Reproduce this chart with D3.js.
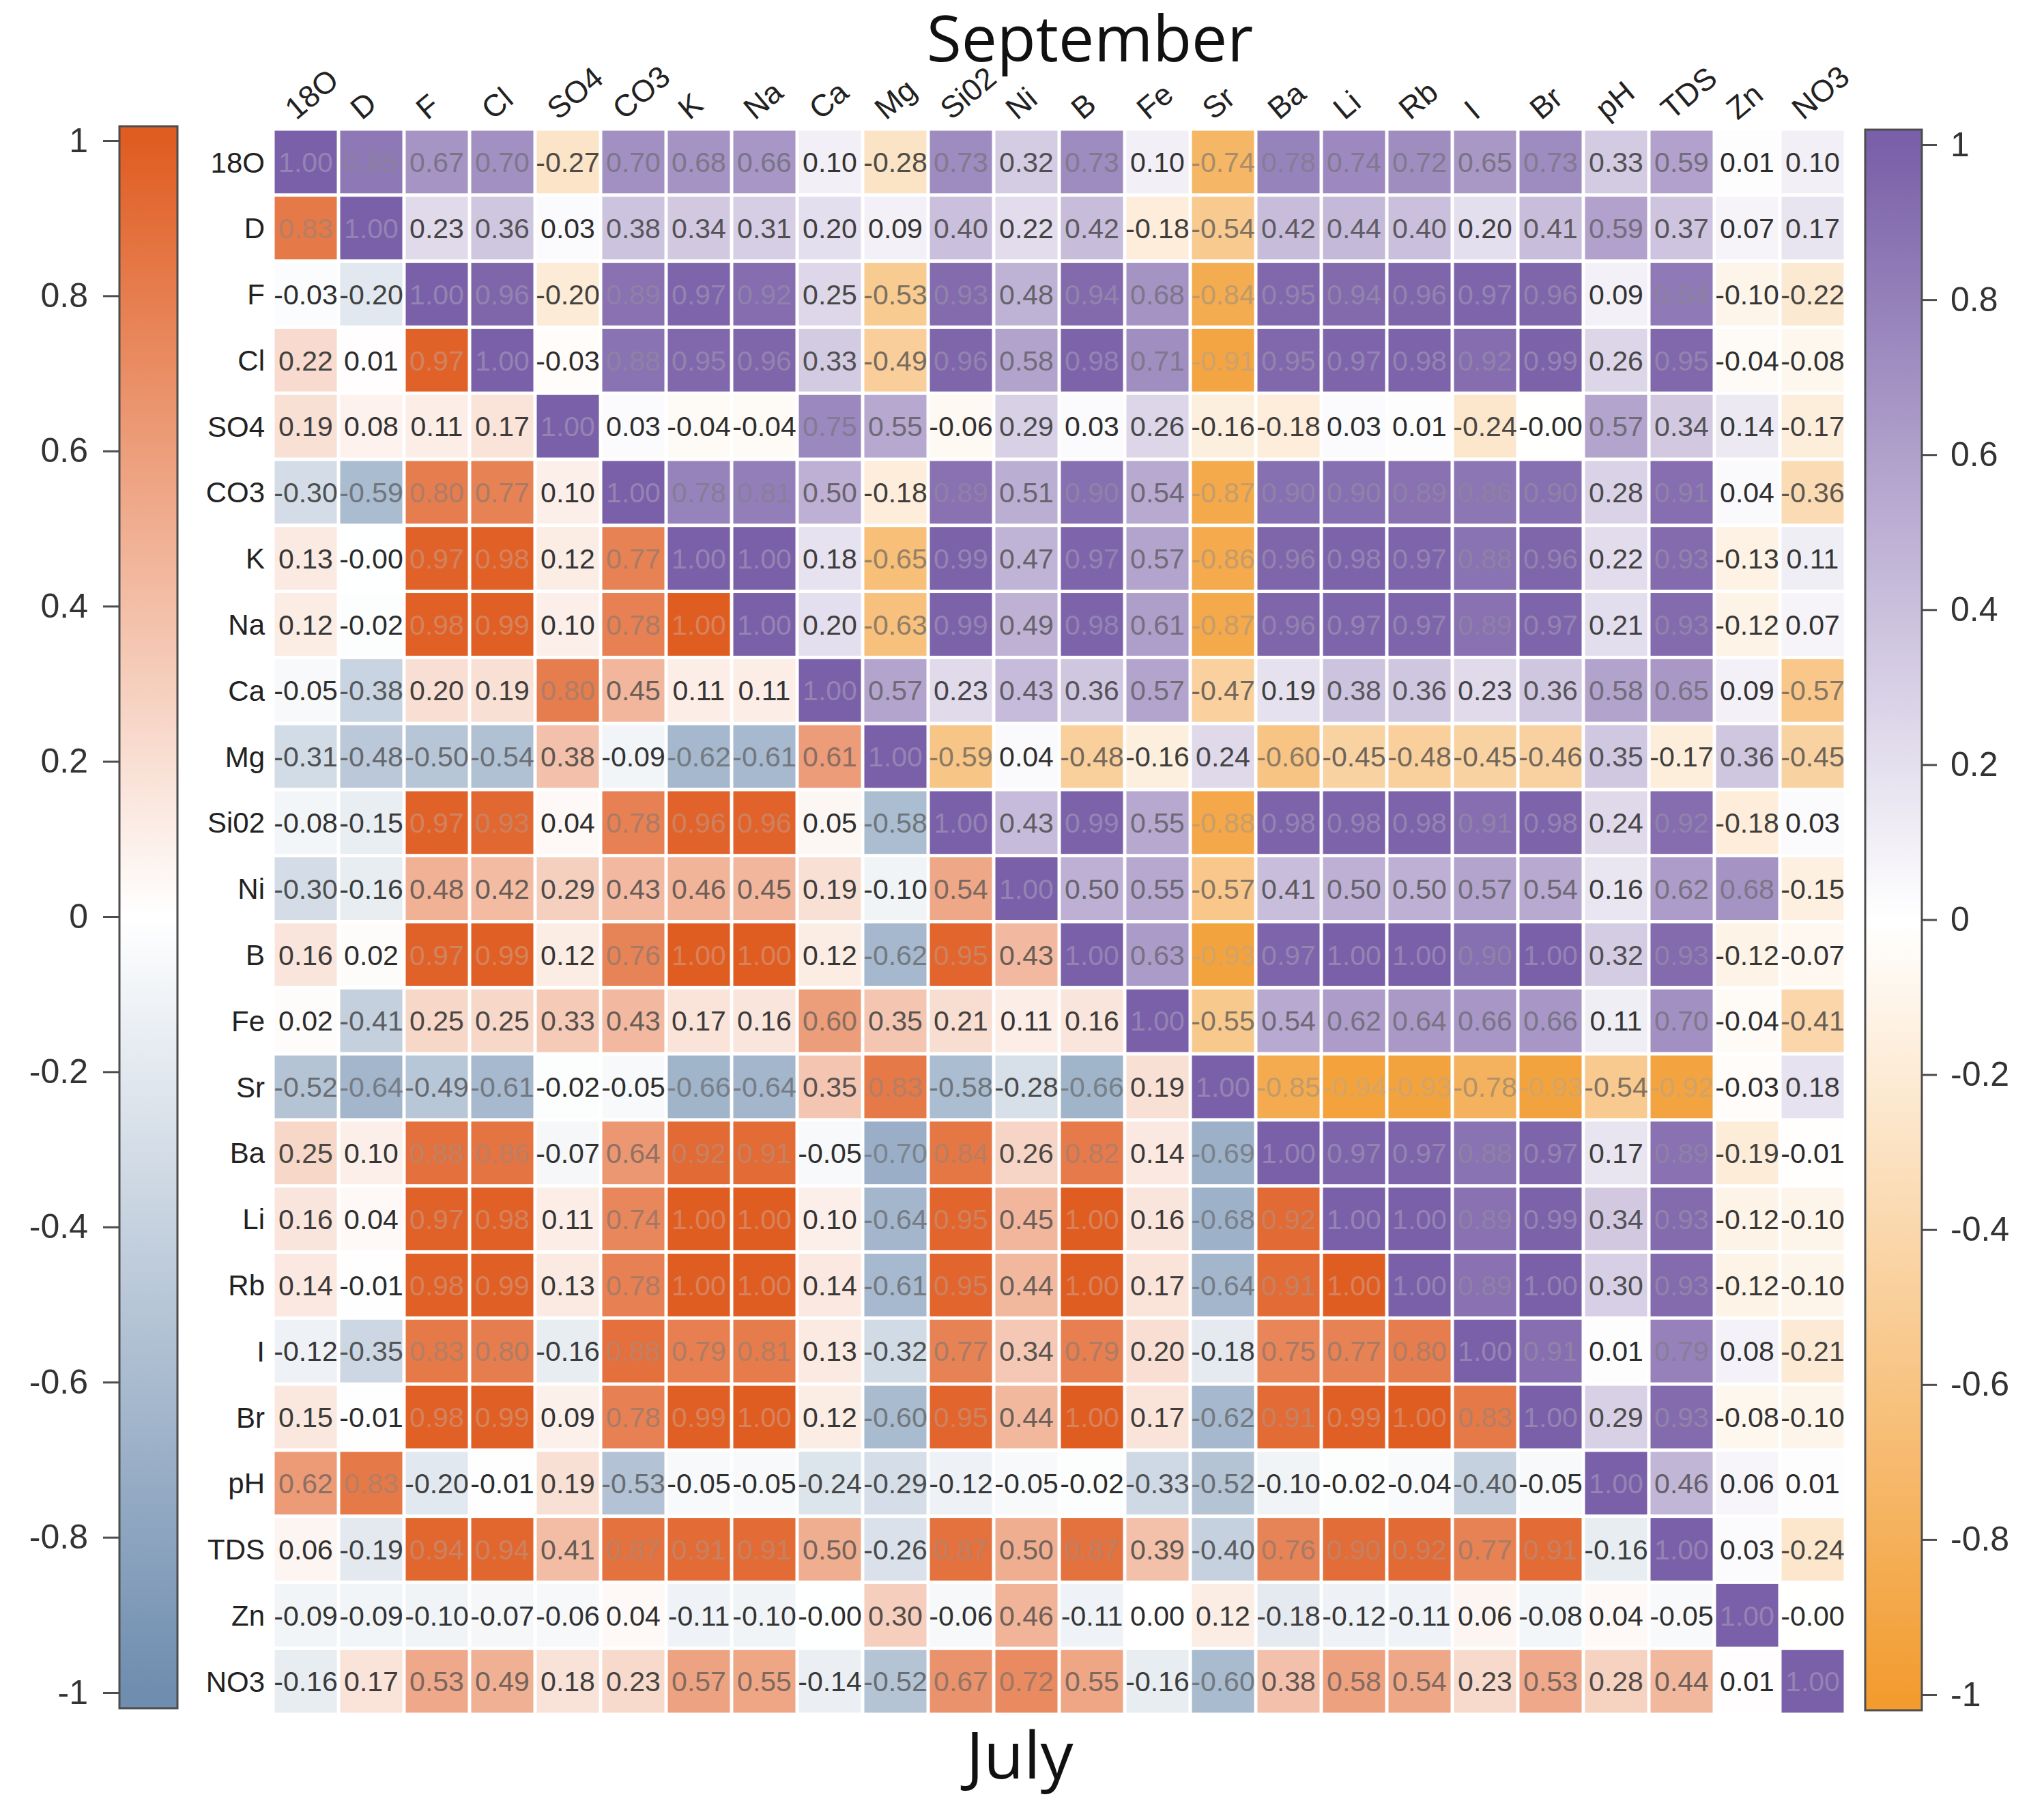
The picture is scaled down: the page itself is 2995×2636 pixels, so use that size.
<!DOCTYPE html>
<html>
<head>
<meta charset="utf-8">
<script src="https://cdn.jsdelivr.net/npm/d3@7"></script>
<style>
  html, body { margin: 0; padding: 0; background: #ffffff; }
  svg { display: block; }
</style>
</head>
<body>
<svg id="chart" width="2995" height="2636"></svg>
<script>
// variables, same order on both axes
const vars = ["18O","D","F","Cl","SO4","CO3","K","Na","Ca","Mg","Si02","Ni",
              "B","Fe","Sr","Ba","Li","Rb","I","Br","pH","TDS","Zn","NO3"];

// September (upper triangle): row i holds columns i+1 .. 23
const septRows = [
  [0.85,0.67,0.70,-0.27,0.70,0.68,0.66,0.10,-0.28,0.73,0.32,0.73,0.10,-0.74,0.78,0.74,0.72,0.65,0.73,0.33,0.59,0.01,0.10],
  [0.23,0.36,0.03,0.38,0.34,0.31,0.20,0.09,0.40,0.22,0.42,-0.18,-0.54,0.42,0.44,0.40,0.20,0.41,0.59,0.37,0.07,0.17],
  [0.96,-0.20,0.89,0.97,0.92,0.25,-0.53,0.93,0.48,0.94,0.68,-0.84,0.95,0.94,0.96,0.97,0.96,0.09,0.84,-0.10,-0.22],
  [-0.03,0.88,0.95,0.96,0.33,-0.49,0.96,0.58,0.98,0.71,-0.91,0.95,0.97,0.98,0.92,0.99,0.26,0.95,-0.04,-0.08],
  [0.03,-0.04,-0.04,0.75,0.55,-0.06,0.29,0.03,0.26,-0.16,-0.18,0.03,0.01,-0.24,-0.004,0.57,0.34,0.14,-0.17],
  [0.78,0.81,0.50,-0.18,0.89,0.51,0.90,0.54,-0.87,0.90,0.90,0.89,0.86,0.90,0.28,0.91,0.04,-0.36],
  [1.00,0.18,-0.65,0.99,0.47,0.97,0.57,-0.86,0.96,0.98,0.97,0.88,0.96,0.22,0.93,-0.13,0.11],
  [0.20,-0.63,0.99,0.49,0.98,0.61,-0.87,0.96,0.97,0.97,0.89,0.97,0.21,0.93,-0.12,0.07],
  [0.57,0.23,0.43,0.36,0.57,-0.47,0.19,0.38,0.36,0.23,0.36,0.58,0.65,0.09,-0.57],
  [-0.59,0.04,-0.48,-0.16,0.24,-0.60,-0.45,-0.48,-0.45,-0.46,0.35,-0.17,0.36,-0.45],
  [0.43,0.99,0.55,-0.88,0.98,0.98,0.98,0.91,0.98,0.24,0.92,-0.18,0.03],
  [0.50,0.55,-0.57,0.41,0.50,0.50,0.57,0.54,0.16,0.62,0.68,-0.15],
  [0.63,-0.93,0.97,1.00,1.00,0.90,1.00,0.32,0.93,-0.12,-0.07],
  [-0.55,0.54,0.62,0.64,0.66,0.66,0.11,0.70,-0.04,-0.41],
  [-0.85,-0.94,-0.93,-0.78,-0.93,-0.54,-0.92,-0.03,0.18],
  [0.97,0.97,0.88,0.97,0.17,0.89,-0.19,-0.01],
  [1.00,0.89,0.99,0.34,0.93,-0.12,-0.10],
  [0.89,1.00,0.30,0.93,-0.12,-0.10],
  [0.91,0.01,0.79,0.08,-0.21],
  [0.29,0.93,-0.08,-0.10],
  [0.46,0.06,0.01],
  [0.03,-0.24],
  [-0.004],
  []
];

// July (lower triangle): row i holds columns 0 .. i-1
const julyRows = [
  [],
  [0.83],
  [-0.03,-0.20],
  [0.22,0.01,0.97],
  [0.19,0.08,0.11,0.17],
  [-0.30,-0.59,0.80,0.77,0.10],
  [0.13,-0.004,0.97,0.98,0.12,0.77],
  [0.12,-0.02,0.98,0.99,0.10,0.78,1.00],
  [-0.05,-0.38,0.20,0.19,0.80,0.45,0.11,0.11],
  [-0.31,-0.48,-0.50,-0.54,0.38,-0.09,-0.62,-0.61,0.61],
  [-0.08,-0.15,0.97,0.93,0.04,0.78,0.96,0.96,0.05,-0.58],
  [-0.30,-0.16,0.48,0.42,0.29,0.43,0.46,0.45,0.19,-0.10,0.54],
  [0.16,0.02,0.97,0.99,0.12,0.76,1.00,1.00,0.12,-0.62,0.95,0.43],
  [0.02,-0.41,0.25,0.25,0.33,0.43,0.17,0.16,0.60,0.35,0.21,0.11,0.16],
  [-0.52,-0.64,-0.49,-0.61,-0.02,-0.05,-0.66,-0.64,0.35,0.83,-0.58,-0.28,-0.66,0.19],
  [0.25,0.10,0.88,0.86,-0.07,0.64,0.92,0.91,-0.05,-0.70,0.84,0.26,0.82,0.14,-0.69],
  [0.16,0.04,0.97,0.98,0.11,0.74,1.00,1.00,0.10,-0.64,0.95,0.45,1.00,0.16,-0.68,0.92],
  [0.14,-0.01,0.98,0.99,0.13,0.78,1.00,1.00,0.14,-0.61,0.95,0.44,1.00,0.17,-0.64,0.91,1.00],
  [-0.12,-0.35,0.83,0.80,-0.16,0.88,0.79,0.81,0.13,-0.32,0.77,0.34,0.79,0.20,-0.18,0.75,0.77,0.80],
  [0.15,-0.01,0.98,0.99,0.09,0.78,0.99,1.00,0.12,-0.60,0.95,0.44,1.00,0.17,-0.62,0.91,0.99,1.00,0.83],
  [0.62,0.83,-0.20,-0.01,0.19,-0.53,-0.05,-0.05,-0.24,-0.29,-0.12,-0.05,-0.02,-0.33,-0.52,-0.10,-0.02,-0.04,-0.40,-0.05],
  [0.06,-0.19,0.94,0.94,0.41,0.87,0.91,0.91,0.50,-0.26,0.87,0.50,0.87,0.39,-0.40,0.76,0.90,0.92,0.77,0.91,-0.16],
  [-0.09,-0.09,-0.10,-0.07,-0.06,0.04,-0.11,-0.10,-0.004,0.30,-0.06,0.46,-0.11,0.00,0.12,-0.18,-0.12,-0.11,0.06,-0.08,0.04,-0.05],
  [-0.16,0.17,0.53,0.49,0.18,0.23,0.57,0.55,-0.14,-0.52,0.67,0.72,0.55,-0.16,-0.60,0.38,0.58,0.54,0.23,0.53,0.28,0.44,0.01]
];

const barTicks = [1, 0.8, 0.6, 0.4, 0.2, 0, -0.2, -0.4, -0.6, -0.8, -1];

const font = "'Liberation Sans', Arial, sans-serif";
const titleFont = "'Open Sans', 'Noto Sans', sans-serif";
const svg = d3.select("#chart");

// colour maps
const septColor = d3.scaleLinear().domain([-1, 0, 1])
  .range(["#f29c30", "#ffffff", "#7a60a8"]).clamp(true);
const julyColor = d3.scaleLinear().domain([-1, 0, 1])
  .range(["#6f8daf", "#ffffff", "#e05d22"]).clamp(true);

// build the cell list
const cells = [];
vars.forEach((rv, i) => {
  vars.forEach((cv, j) => {
    let v, which;
    if (i === j) { v = 1; which = "sept"; }
    else if (j > i) { v = septRows[i][j - i - 1]; which = "sept"; }
    else { v = julyRows[i][j]; which = "july"; }
    cells.push({ row: rv, col: cv, v, which });
  });
});

const x = d3.scaleBand().domain(vars).range([400, 2704]);
const y = d3.scaleBand().domain(vars).range([189, 2512]);
const gap = 2.5;

const fillOf = d => d.which === "sept" ? septColor(d.v) : julyColor(d.v);
// label colour: dark on pale cells, fading toward a light tint of the cell on strong ones
const textOf = d => {
  const tint = d3.interpolateRgb(fillOf(d), "#c8c8c8")(0.35);
  return d3.interpolateRgb("#2b2b2b", tint)(Math.pow(Math.abs(d.v), 1.3));
};

const g = svg.append("g");
g.selectAll("rect.cell")
  .data(cells)
  .join("rect")
  .attr("class", "cell")
  .attr("x", d => x(d.col) + gap)
  .attr("y", d => y(d.row) + gap)
  .attr("width", x.bandwidth() - 2 * gap)
  .attr("height", y.bandwidth() - 2 * gap)
  .attr("fill", fillOf);

g.selectAll("text.val")
  .data(cells)
  .join("text")
  .attr("class", "val")
  .attr("x", d => x(d.col) + x.bandwidth() / 2)
  .attr("y", d => y(d.row) + y.bandwidth() / 2)
  .attr("dy", "0.36em")
  .attr("text-anchor", "middle")
  .attr("font-family", font)
  .attr("font-size", 41)
  .attr("fill", textOf)
  .text(d => d.v.toFixed(2));

// row labels
g.selectAll("text.rowlab")
  .data(vars)
  .join("text")
  .attr("class", "rowlab")
  .attr("x", 388)
  .attr("y", d => y(d) + y.bandwidth() / 2)
  .attr("dy", "0.36em")
  .attr("text-anchor", "end")
  .attr("font-family", font)
  .attr("font-size", 42)
  .attr("fill", "#222")
  .text(d => d);

// column labels, slanted
g.selectAll("text.collab")
  .data(vars)
  .join("text")
  .attr("class", "collab")
  .attr("transform", d => `translate(${x(d) + x.bandwidth() / 2 - 14},${189 - 12}) rotate(-40)`)
  .attr("font-family", font)
  .attr("font-size", 45)
  .attr("fill", "#222")
  .text(d => d);

// colour bars
const defs = svg.append("defs");
function colorBar(id, color, x0, x1, top, bottom, yScale, side) {
  const grad = defs.append("linearGradient")
    .attr("id", id)
    .attr("x1", 0).attr("x2", 0).attr("y1", 0).attr("y2", 1);
  const off = d3.scaleLinear().domain([top, bottom]).range([0, 1]);
  [1, 0.5, 0, -0.5, -1].forEach(v => {
    grad.append("stop")
      .attr("offset", off(yScale(v)))
      .attr("stop-color", color(v));
  });
  svg.append("rect")
    .attr("x", x0).attr("y", top)
    .attr("width", x1 - x0).attr("height", bottom - top)
    .attr("fill", `url(#${id})`)
    .attr("stroke", "#4d4d4d")
    .attr("stroke-width", 3);

  const fmt = v => String(v);
  const axis = side === "left"
    ? d3.axisLeft(yScale).tickValues(barTicks).tickSize(24).tickPadding(22).tickFormat(fmt)
    : d3.axisRight(yScale).tickValues(barTicks).tickSize(22).tickPadding(20).tickFormat(fmt);
  const ag = svg.append("g")
    .attr("transform", `translate(${side === "left" ? x0 : x1},0)`)
    .call(axis);
  ag.select(".domain").remove();
  ag.selectAll(".tick line").attr("stroke", "#4d4d4d").attr("stroke-width", 3);
  ag.selectAll(".tick text")
    .attr("font-family", font)
    .attr("font-size", 50)
    .attr("fill", "#333");
}

const yLeft = d3.scaleLinear().domain([1, -1]).range([206, 2480]);
const yRight = d3.scaleLinear().domain([1, -1]).range([212, 2483]);
colorBar("julyGrad", julyColor, 175, 260, 185, 2503, yLeft, "left");
colorBar("septGrad", septColor, 2733, 2816, 190, 2506, yRight, "right");

// titles
svg.append("text")
  .attr("x", 1597).attr("y", 90)
  .attr("text-anchor", "middle")
  .attr("font-family", titleFont)
  .attr("font-size", 93)
  .attr("fill", "#111")
  .text("September");

svg.append("text")
  .attr("x", 1494).attr("y", 2606)
  .attr("text-anchor", "middle")
  .attr("font-family", titleFont)
  .attr("font-size", 96)
  .attr("fill", "#111")
  .text("July");
</script>
</body>
</html>
